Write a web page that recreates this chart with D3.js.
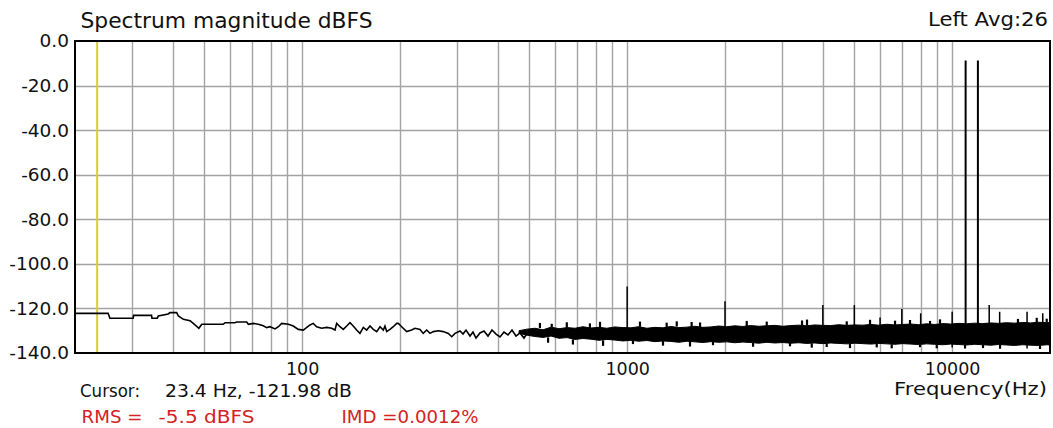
<!DOCTYPE html>
<html><head><meta charset="utf-8">
<script src="https://cdn.jsdelivr.net/npm/d3@7"></script>
<style>
html,body{margin:0;padding:0;background:#fff;}
svg{display:block;font-family:"DejaVu Sans",sans-serif;}
</style></head><body>
<svg id="chart" width="1053" height="428"></svg>
<script>
// ---- data ----
// thin trace (low frequencies), Hz / dBFS
const lowFreq = [20,25.3,25.6,30.2,30.3,34.4,34.5,35.8,36.1,38.7,39.2,41.1,41.6,43.1,45.2,46.8,48.1,49.1,57.2,57.9,62.1,62.9,67.5,68.3,70.7,73.3,75.9,77.8,79.6,82.5,84.5,86.5,90.7,93.9,97.3,100.8,105.7,108.2,110.8,114.8,119.0,123.3,126.2,127.7,130.7,133.8,137.1,140.3,143.6,147.1,150.6,154.2,157.9,161.7,165.5,169.6,173.6,177.7,179.8,182.0,186.3,190.7,195.4,197.6,202.4,209.6,217.2,222.4,230.4,235.8,241.6,247.4,253.3,262.4,271.8,281.6,288.6,295.3,306.0,312.6,319.3,328.4,335.4,342.7,352.5,362.6,373.1,383.8,394.9,406.2,417.9,429.8,442.2,454.9,468.0,481.4,495.3,509.6];
const lowDb = [-122.2,-122.2,-124.4,-124.4,-123.1,-123.1,-124.4,-124.4,-123.4,-122.5,-121.9,-121.9,-123.4,-124.9,-125.5,-127.4,-128.9,-127.1,-127.1,-126.4,-126.4,-126.1,-126.1,-127.1,-126.7,-127.1,-127.8,-128.6,-128.2,-129.2,-128.2,-126.7,-127.1,-127.9,-129.4,-129.7,-127.4,-126.7,-128.2,-128.9,-128.5,-128.9,-129.7,-126.7,-128.2,-129.4,-127.9,-126.4,-127.9,-129.7,-131.2,-128.5,-129.7,-127.9,-129.4,-130.4,-128.2,-129.7,-127.9,-130.4,-129.4,-128.2,-126.7,-126.7,-128.2,-130.4,-129.7,-128.9,-129.4,-131.2,-129.7,-131.2,-130.4,-130.0,-130.4,-131.2,-132.7,-131.2,-130.1,-131.5,-129.7,-132.4,-130.6,-133.3,-131.0,-130.1,-132.4,-129.7,-131.5,-132.8,-130.6,-131.9,-129.7,-132.4,-131.0,-133.3,-130.6,-131.9];

// dense noise band: upper and lower edge, Hz / dBFS
const bandFreq = [465,492,520,551,583,617,653,691,731,773,819,866,917,970,1027,1086,1150,1217,1288,1363,1442,1526,1615,1709,1809,1914,2026,2144,2269,2401,2541,2689,2846,3012,3187,3373,3570,3778,3998,4231,4477,4738,5015,5307,5616,5943,6290,6656,7044,7455,7889,8349,8835,9350,9895,10472,11082,11728,12411,13134,13900,14710,15567,16474,17434,18450,19580,20000];
const bandTop = [-130.0,-129.3,-128.9,-129.6,-128.4,-129.1,-128.6,-128.9,-128.2,-128.8,-128.5,-128.9,-128.3,-128.6,-128.7,-128.2,-128.9,-128.5,-128.7,-128.1,-128.6,-128.4,-128.0,-128.5,-128.3,-127.9,-128.2,-127.8,-128.1,-127.7,-128.0,-127.8,-127.6,-128.0,-127.7,-127.5,-127.8,-127.4,-127.6,-127.7,-127.3,-127.6,-127.4,-127.5,-127.2,-127.5,-127.1,-127.4,-127.2,-127.0,-127.3,-126.9,-127.2,-126.8,-127.0,-126.7,-126.9,-126.6,-126.8,-126.5,-126.7,-126.4,-126.6,-126.3,-126.5,-126.2,-126.4,-126.3];
const bandBottom = [-131.2,-132.0,-132.6,-133.0,-132.4,-133.4,-133.1,-133.9,-133.5,-133.8,-134.3,-133.9,-134.2,-134.6,-134.3,-134.7,-134.4,-134.9,-134.6,-134.8,-135.2,-134.7,-135.0,-135.3,-134.9,-135.2,-135.0,-135.4,-135.1,-135.3,-135.6,-135.2,-135.5,-135.3,-135.6,-135.4,-135.7,-135.5,-135.8,-135.5,-135.7,-135.9,-135.6,-135.8,-136.0,-135.7,-135.9,-136.1,-135.8,-136.0,-136.2,-135.9,-136.1,-136.3,-136.0,-136.2,-136.4,-136.1,-136.3,-136.5,-136.2,-136.4,-136.6,-136.3,-136.5,-136.6,-136.3,-136.4];

// short excursions on the band edges, Hz / dBFS from-to
const fringeFreq = [539,586,652,768,825,1095,1323,1421,1579,1676,2333,2688,3452,3576,4738,5588,6672,7418,8548,9174,15940,18205,19540,571,681,843,1042,1289,1561,1837,2440,3170,3698,4111,4848,5860,6516,7962,8964,10954,12442,14038,18632];
const fringeFrom = [-128.8,-128.4,-128.6,-128.8,-128.5,-128.2,-128.5,-128.1,-128.4,-128.5,-127.9,-127.8,-127.6,-127.7,-127.6,-127.5,-127.4,-127.0,-127.2,-126.9,-126.6,-126.2,-126.4,-133.0,-133.9,-134.3,-134.3,-134.6,-134.7,-134.9,-135.3,-135.3,-135.7,-135.6,-135.9,-135.7,-136.1,-136.2,-136.1,-136.4,-136.3,-136.2,-136.6];
const fringeTo = [-126.5,-126.9,-126.2,-126.7,-126.0,-125.9,-126.4,-125.8,-126.1,-126.3,-125.6,-125.9,-125.4,-125.0,-125.8,-125.1,-125.5,-125.2,-125.6,-124.9,-124.7,-124.2,-124.6,-135.4,-136.2,-136.8,-136.0,-136.7,-137.1,-136.5,-137.2,-137.0,-137.6,-137.3,-137.8,-137.5,-137.9,-137.4,-137.9,-138.0,-137.8,-138.1,-138.2];

// harmonic / tone spikes, Hz / dBFS
const spikeFreq = [1000,2000,4000,5000,6000,7000,8000,10000,11000,12000,13000,14000,17000,19000];
const spikePeak = [-110.2,-116.8,-118.5,-118.5,-124.1,-120.3,-122.2,-121.5,-8.8,-8.8,-118.5,-121.5,-121.5,-122.2];
const spikeBase = [-132,-133,-134,-134,-134,-134,-134,-137.5,-134,-134,-134,-134,-138,-135];

const gridFreqs = [30,40,50,60,70,80,90,100,200,300,400,500,600,700,800,900,1000,2000,3000,4000,5000,6000,7000,8000,9000,10000];
const gridDb = [-20,-40,-60,-80,-100,-120];
const yTicks = [0,-20,-40,-60,-80,-100,-120,-140];
const xTicks = [100,1000,10000];
const cursorFreq = 23.4;
const titleText = "Spectrum magnitude dBFS";
const channelText = "Left Avg:26";
const xTitle = "Frequency(Hz)";
const cursorLabel = "Cursor:";
const cursorValue = "23.4 Hz, -121.98 dB";
const rmsLabel = "RMS =";
const rmsValue = "-5.5 dBFS";
const imdText = "IMD =0.0012%";

// ---- drawing ----
const svg = d3.select("#chart");
const x = d3.scaleLog().domain([20, 20000]).range([75, 1050]);
const y = d3.scaleLinear().domain([0, -140]).range([41, 353]);

const grid = svg.append("g").attr("stroke", "#a3a3a3").attr("stroke-width", 1.4);
grid.selectAll("line.v").data(gridFreqs).join("line").attr("class","v")
  .attr("x1", d => Math.round(x(d)) + 0.5).attr("x2", d => Math.round(x(d)) + 0.5)
  .attr("y1", y(0)).attr("y2", y(-140));
grid.selectAll("line.h").data(gridDb).join("line").attr("class","h")
  .attr("y1", d => Math.round(y(d)) + 0.5).attr("y2", d => Math.round(y(d)) + 0.5)
  .attr("x1", x(20)).attr("x2", x(20000));

// cursor
svg.append("line")
  .attr("x1", x(cursorFreq)).attr("x2", x(cursorFreq))
  .attr("y1", y(0)).attr("y2", y(-140))
  .attr("stroke", "#d2d22a").attr("stroke-width", 2);

// noise band
const band = bandFreq.map((f, i) => ({f, t: bandTop[i], b: bandBottom[i]}));
svg.append("path").datum(band)
  .attr("d", d3.area().x(d => x(d.f)).y0(d => y(d.b)).y1(d => y(d.t)))
  .attr("fill", "#000").attr("stroke", "#000").attr("stroke-width", 1);

// edge excursions
const fringe = fringeFreq.map((f, i) => ({f, a: fringeFrom[i], b: fringeTo[i]}));
svg.selectAll("line.fr").data(fringe).join("line").attr("class","fr")
  .attr("x1", d => x(d.f)).attr("x2", d => x(d.f))
  .attr("y1", d => y(d.a)).attr("y2", d => y(d.b))
  .attr("stroke", "#000").attr("stroke-width", 2.2);

// low-frequency trace
const low = lowFreq.map((f, i) => ({f, v: lowDb[i]}));
svg.append("path").datum(low)
  .attr("d", d3.line().x(d => x(d.f)).y(d => y(d.v)))
  .attr("fill", "none").attr("stroke", "#000").attr("stroke-width", 1.6);

// spikes
const spikes = spikeFreq.map((f, i) => ({f, p: spikePeak[i], b: spikeBase[i]}));
svg.selectAll("line.sp").data(spikes).join("line").attr("class","sp")
  .attr("x1", d => x(d.f)).attr("x2", d => x(d.f))
  .attr("y1", d => y(d.b)).attr("y2", d => y(d.p))
  .attr("stroke", "#000").attr("stroke-width", d => d.p > -50 ? 2 : 1.5);

// frame
svg.append("rect").attr("x", x(20)).attr("y", y(0))
  .attr("width", x(20000) - x(20)).attr("height", y(-140) - y(0))
  .attr("fill", "none").attr("stroke", "#000").attr("stroke-width", 2);

// axes
const yAxis = svg.append("g").attr("transform", `translate(${x(20)},0)`)
  .call(d3.axisLeft(y).tickValues(yTicks).tickSize(0).tickPadding(6).tickFormat(d => d.toFixed(1)));
yAxis.select(".domain").remove();
yAxis.selectAll("text").attr("font-family", "DejaVu Sans").attr("font-size", 18.5).attr("fill", "#111");

const xAxis = svg.append("g").attr("transform", `translate(0,${y(-140)})`)
  .call(d3.axisBottom(x).tickValues(xTicks).tickSize(0).tickPadding(10).tickFormat(d3.format("d")));
xAxis.select(".domain").remove();
xAxis.selectAll("text").attr("font-family", "DejaVu Sans").attr("font-size", 17.5).attr("fill", "#111");

// texts
function txt(s, xx, yy, size, opts = {}) {
  const t = svg.append("text").attr("x", xx).attr("y", yy).attr("font-size", size)
    .attr("fill", opts.fill || "#111").attr("text-anchor", opts.anchor || "start")
    .text(s);
  if (opts.len) t.attr("textLength", opts.len).attr("lengthAdjust", "spacingAndGlyphs");
  return t;
}
txt(titleText, 80.5, 28, 22, {len: 292});
txt(channelText, 1048, 26, 20, {anchor: "end", len: 120});
txt(xTitle, 1047, 394.5, 18.5, {anchor: "end", len: 153});
txt(cursorLabel, 80, 396.5, 17, {len: 60});
txt(cursorValue, 165, 396.5, 17, {len: 187});
const red = "#d42222";
txt(rmsLabel, 81.5, 423, 17, {fill: red, len: 61});
txt(rmsValue, 158.5, 423, 17, {fill: red, len: 96});
txt(imdText, 341.5, 423, 17, {fill: red, len: 137});
</script>
</body></html>
